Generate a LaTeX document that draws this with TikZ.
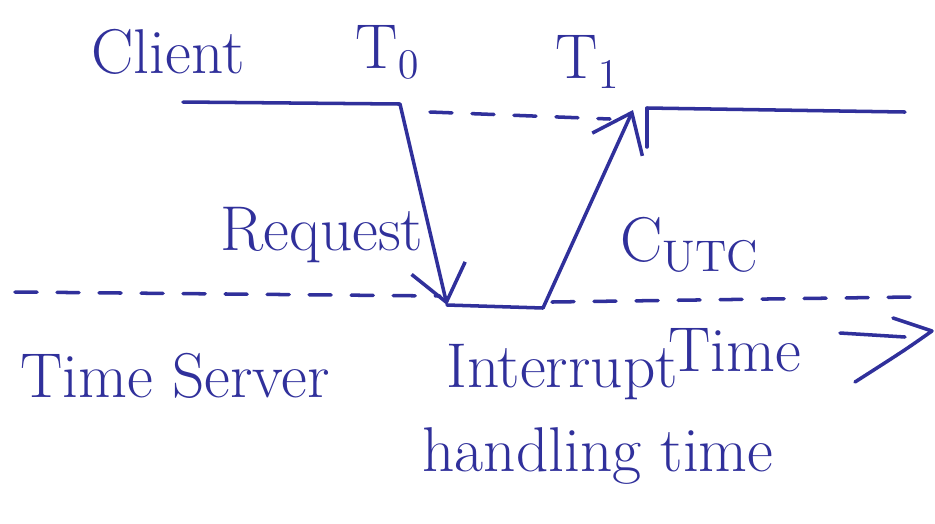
\documentclass[tikz,border=0pt]{standalone}
\usepackage{fontspec}
\usetikzlibrary{arrows.meta}
\definecolor{ink}{RGB}{48,48,155}
\begin{document}
\begin{tikzpicture}[x=0.01cm,y=-0.01cm,
  pen/.style={draw=ink,line width=1pt,line cap=round,line join=round},
  dashpen/.style={pen,dash pattern=on 0.22cm off 0.2cm},
  msg/.style={pen,-{Straight Barb[length=0.35cm,width=0.55cm,line width=1pt]}},
  lbl/.style={text=ink,font=\fontsize{18}{20}\selectfont,inner sep=0pt}]
\useasboundingbox[fill=white] (0,0) rectangle (935,523);

% labels
\node[lbl] (client) at (168,52) {Client};
\node[lbl] (tzero)  at (388,52) {T$_0$};
\node[lbl] (tone)   at (588,62) {T$_1$};
\node[lbl] (request) at (322,235) {Request};
\node[lbl] (cutc)   at (690,245) {C$_{\mathrm{UTC}}$};
\node[lbl] (server) at (175,376) {Time Server};
\node[lbl] (intr)   at (562,372) {Interrupt};
\node[lbl] (hand)   at (598,456) {handling time};
\node[lbl] (time)   at (735,350) {Time};

% client time line
\coordinate (cA) at (183,102);
\coordinate (t0) at (400,104);
\coordinate (t0d) at (430,112);
\coordinate (t1d) at (610,119);
\coordinate (t1) at (633,110);
\coordinate (t1tick) at (647,108);
\coordinate (t1tickb) at (647,147);
\coordinate (cB) at (905,112);
\draw[pen] (cA) -- (t0);
\draw[dashpen] (t0d) -- (t1d);
\draw[pen] (t1tick) -- (cB);
\draw[pen] (t1tick) -- (t1tickb);

% server time line
\coordinate (sA) at (15,292);
\coordinate (sB) at (440,296);
\coordinate (rq) at (447,305);
\coordinate (rp) at (543,308);
\coordinate (sC) at (552,302);
\coordinate (sD) at (910,297);
\draw[dashpen] (sA) -- (sB);
\draw[dashpen] (sC) -- (sD);

% request, interrupt handling, reply
\draw[msg] (t0) -- (rq);
\draw[pen] (rq) -- (rp);
\draw[msg] (rp) -- (t1);

% time direction arrow
\coordinate (ta) at (840,333);
\coordinate (tb) at (905,337);
\coordinate (tc) at (893,318);
\coordinate (td) at (932,331);
\coordinate (te) at (855,382);
\draw[pen] (ta) -- (tb);
\draw[pen] (tc) -- (td) .. controls (905,350) .. (te);
\end{tikzpicture}
\end{document}
